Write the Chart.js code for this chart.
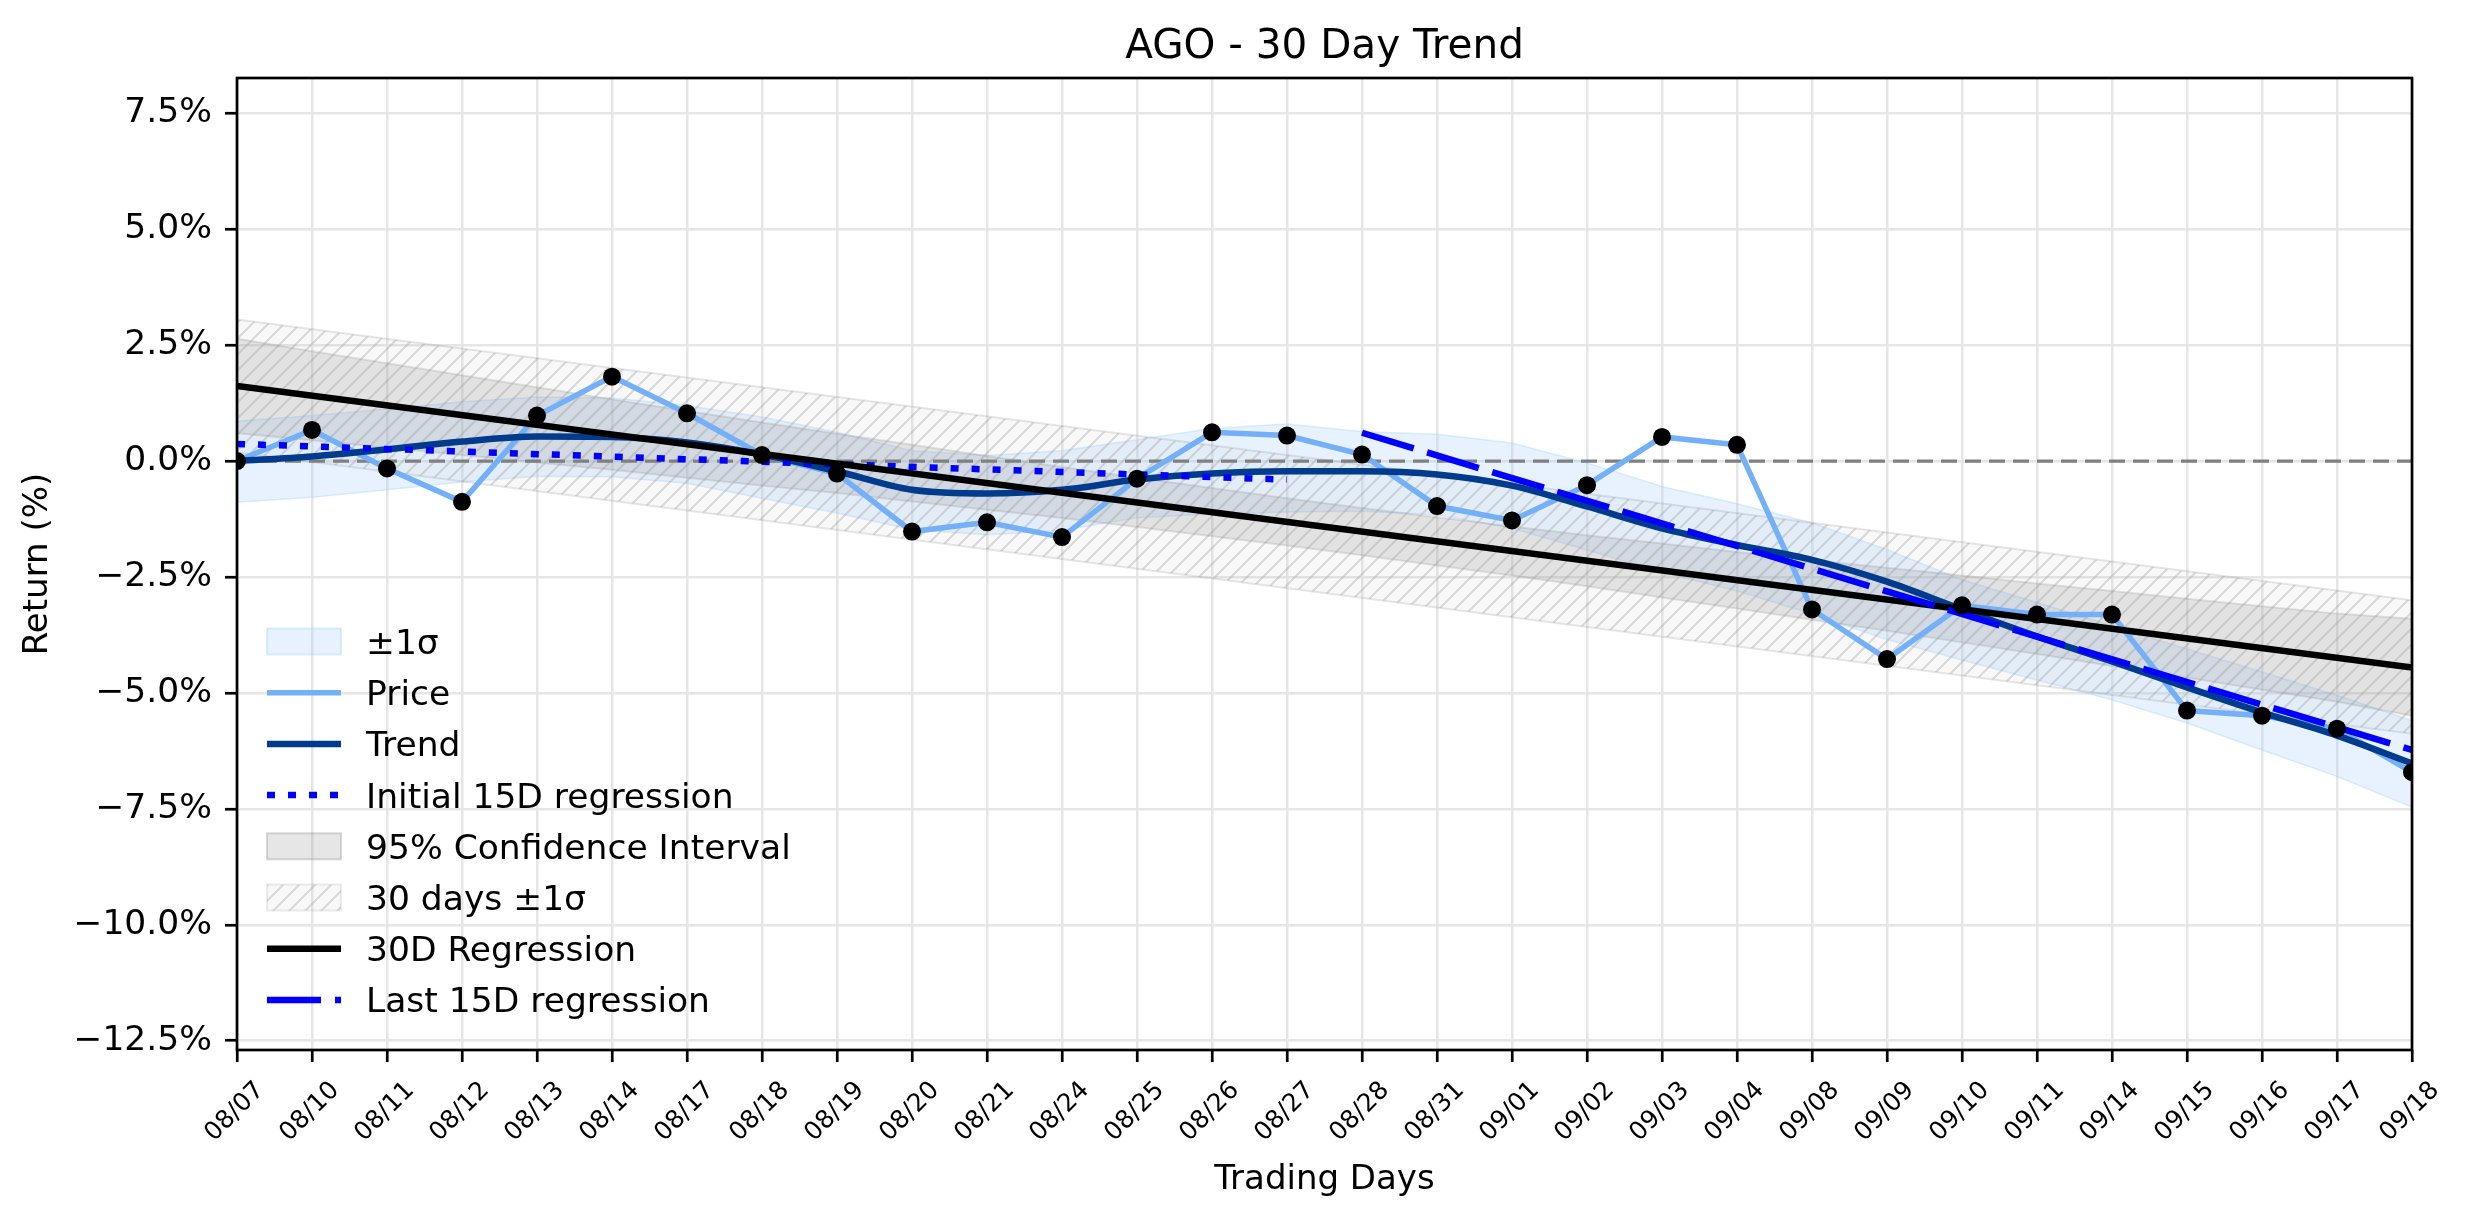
<!DOCTYPE html>
<html><head><meta charset="utf-8">
<script src="https://cdn.jsdelivr.net/npm/chart.js@4.4.0/dist/chart.umd.min.js"></script>
<style>html,body{margin:0;padding:0;background:#fff;}canvas{display:block;}</style>
</head><body>
<canvas id="c" width="2474" height="1224" style="width:2474px;height:1224px"></canvas>
<script>
// ---------- data ----------
const days = ['08/07','08/10','08/11','08/12','08/13','08/14','08/17','08/18','08/19','08/20','08/21','08/24','08/25','08/26','08/27','08/28','08/31','09/01','09/02','09/03','09/04','09/08','09/09','09/10','09/11','09/14','09/15','09/16','09/17','09/18'];
const price = [0.00,0.67,-0.16,-0.88,0.98,1.82,1.03,0.13,-0.27,-1.52,-1.32,-1.64,-0.38,0.62,0.55,0.14,-0.97,-1.28,-0.52,0.52,0.35,-3.20,-4.27,-3.11,-3.31,-3.31,-5.38,-5.49,-5.77,-6.71];
const trend = [0.00,0.10,0.25,0.42,0.53,0.52,0.40,0.14,-0.22,-0.62,-0.70,-0.62,-0.40,-0.27,-0.22,-0.22,-0.29,-0.53,-0.98,-1.45,-1.81,-2.13,-2.60,-3.20,-3.78,-4.32,-4.88,-5.42,-5.92,-6.52];
const sigmaUpper = [0.86,0.98,1.12,1.28,1.38,1.36,1.20,0.95,0.62,0.22,0.12,0.22,0.46,0.70,0.80,0.63,0.58,0.39,-0.04,-0.55,-0.92,-1.33,-1.91,-2.56,-3.05,-3.55,-4.05,-4.55,-5.05,-5.60];
const sigmaLower = [-0.89,-0.78,-0.62,-0.45,-0.33,-0.34,-0.48,-0.80,-1.12,-1.48,-1.59,-1.50,-1.22,-1.14,-1.10,-1.08,-1.16,-1.45,-1.92,-2.40,-2.80,-3.30,-3.85,-4.29,-4.72,-5.15,-5.65,-6.23,-6.80,-7.46];
const ciUpper = [2.64,2.37,2.11,1.85,1.59,1.33,1.08,0.83,0.59,0.35,0.11,-0.13,-0.36,-0.58,-0.80,-1.01,-1.21,-1.41,-1.60,-1.78,-1.96,-2.14,-2.30,-2.47,-2.64,-2.80,-2.97,-3.13,-3.29,-3.40];
const ciLower = [0.60,0.45,0.29,0.13,-0.03,-0.19,-0.36,-0.53,-0.69,-0.87,-1.05,-1.23,-1.42,-1.62,-1.82,-2.03,-2.25,-2.47,-2.70,-2.94,-3.18,-3.42,-3.66,-3.91,-4.16,-4.42,-4.67,-4.93,-5.19,-5.49];
const reg30 = [1.62,-4.45];        // 08/07 -> 09/18
const reg30Upper = [3.05,-3.00];   // 30 days +1σ
const reg30Lower = [0.19,-5.88];   // 30 days -1σ
const initReg = [0.37,-0.40];      // 08/07 -> 08/27
const lastReg = [0.61,-6.23];      // 08/28 -> 09/18
const zeroLine = [0,0];
const yTicks = [-12.5,-10,-7.5,-5,-2.5,0,2.5,5,7.5];
const titleText = 'AGO - 30 Day Trend';
const legendLabels = ['±1σ','Price','Trend','Initial 15D regression','95% Confidence Interval','30 days ±1σ','30D Regression','Last 15D regression'];

// ---------- helpers ----------
const seg = (a,b,v) => [{x:a,y:v[0]},{x:b,y:v[1]}];
const FONT = '"DejaVu Sans", "Liberation Sans", sans-serif';
const C = {
  price:'#74b0f7', trend:'#003b8e', blue:'#0000ff',
  sigFill:'rgba(160,205,250,0.25)', sigEdge:'rgba(160,205,250,0.35)',
  ciFill:'rgba(128,128,128,0.20)', ciEdge:'rgba(128,128,128,0.22)',
  hatchEdge:'rgba(128,128,128,0.20)'
};
function makeHatch(){
  const s=16, c=document.createElement('canvas'); c.width=s; c.height=s;
  const g=c.getContext('2d');
  g.fillStyle='rgba(200,200,200,0.13)'; g.fillRect(0,0,s,s);
  g.strokeStyle='rgba(150,150,150,0.32)'; g.lineWidth=2;
  g.beginPath();
  g.moveTo(0,s); g.lineTo(s,0);
  g.moveTo(-2,2); g.lineTo(2,-2);
  g.moveTo(s-2,s+2); g.lineTo(s+2,s-2);
  g.stroke();
  return document.getElementById('c').getContext('2d').createPattern(c,'repeat');
}
const hatch = makeHatch();
const dashProp = {pointRadius:0, clip:0, fill:false};

// ---------- datasets ----------
const datasets = [
  /*0*/ {data:price, showLine:false, pointRadius:9, pointBackgroundColor:'#000', pointBorderWidth:0, clip:0, order:1},
  /*1*/ {data:seg('08/28','09/18',lastReg), borderColor:C.blue, borderWidth:6.5, borderDash:[54,14], ...dashProp, order:2},
  /*2*/ {data:seg('08/07','09/18',reg30), borderColor:'#000', borderWidth:6.5, ...dashProp, order:3},
  /*3*/ {data:seg('08/07','08/27',initReg), borderColor:C.blue, borderWidth:6.5, borderDash:[8,13], ...dashProp, order:4},
  /*4*/ {data:trend, borderColor:C.trend, borderWidth:6.5, cubicInterpolationMode:'monotone', ...dashProp, order:5},
  /*5*/ {data:price, borderColor:C.price, borderWidth:5.5, ...dashProp, order:6},
  /*6*/ {data:seg('08/07','09/18',zeroLine), borderColor:'#808080', borderWidth:3.3, borderDash:[16,8], ...dashProp, order:7},
  /*7*/ {data:seg('08/07','09/18',reg30Lower), borderColor:C.hatchEdge, borderWidth:2, ...dashProp, order:8.5},
  /*8*/ {data:seg('08/07','09/18',reg30Upper), borderColor:C.hatchEdge, borderWidth:2, pointRadius:0, clip:0, fill:{target:7}, backgroundColor:hatch, order:8},
  /*9*/ {data:ciLower, borderColor:C.ciEdge, borderWidth:2, ...dashProp, order:10.5},
  /*10*/{data:ciUpper, borderColor:C.ciEdge, borderWidth:2, pointRadius:0, clip:0, fill:{target:9}, backgroundColor:C.ciFill, order:10},
  /*11*/{data:sigmaLower, borderColor:C.sigEdge, borderWidth:1.5, ...dashProp, order:12.5},
  /*12*/{data:sigmaUpper, borderColor:C.sigEdge, borderWidth:1.5, pointRadius:0, clip:0, fill:{target:11}, backgroundColor:C.sigFill, order:12}
];

// ---------- decorations: frame, title, x labels, legend ----------
const deco = {
  id:'deco',
  afterDatasetsDraw(chart){
    const {ctx, chartArea:a} = chart;
    ctx.save(); ctx.strokeStyle='#000'; ctx.lineWidth=2.7;
    ctx.strokeRect(a.left, a.top, a.right-a.left, a.bottom-a.top);
    ctx.restore();
  },
  afterDraw(chart){
    const {ctx, chartArea:a} = chart, xs = chart.scales.x;
    // title centred over the plot area
    ctx.save();
    ctx.fillStyle='#000'; ctx.font='40.5px '+FONT; ctx.textAlign='center'; ctx.textBaseline='alphabetic';
    ctx.fillText(titleText, (a.left+a.right)/2, 58);
    ctx.restore();
    // rotated x tick labels (centred on tick)
    ctx.save();
    ctx.fillStyle='#000'; ctx.font='25px '+FONT; ctx.textAlign='center'; ctx.textBaseline='middle';
    days.forEach((d,i)=>{
      const x = xs.getPixelForValue(i);
      ctx.save(); ctx.translate(x-2, 1112); ctx.rotate(-Math.PI/4); ctx.fillText(d,0,0); ctx.restore();
    });
    ctx.restore();
    // legend
    const hx0=267, hx1=341, tx=366, y0=641.5, dy=51.2;
    ctx.save();
    ctx.font='34.5px '+FONT; ctx.textBaseline='alphabetic'; ctx.textAlign='left';
    legendLabels.forEach((lab,k)=>{
      const y = y0 + k*dy;
      ctx.save();
      ctx.lineCap='butt';
      if (k===0 || k===4 || k===5){
        const fill = k===0 ? C.sigFill : (k===4 ? C.ciFill : hatch);
        const edge = k===0 ? C.sigEdge : (k===4 ? 'rgba(128,128,128,0.3)' : 'rgba(128,128,128,0.15)');
        ctx.fillStyle = fill; ctx.fillRect(hx0, y-13, hx1-hx0, 26);
        ctx.strokeStyle = edge; ctx.lineWidth=2; ctx.strokeRect(hx0, y-13, hx1-hx0, 26);
      } else {
        const st = {1:[C.price,5.5,[]],2:[C.trend,6.5,[]],3:[C.blue,6.5,[8,13]],6:['#000',6.5,[]],7:[C.blue,6.5,[54,14]]}[k];
        ctx.strokeStyle=st[0]; ctx.lineWidth=st[1]; ctx.setLineDash(st[2]);
        ctx.beginPath(); ctx.moveTo(hx0,y); ctx.lineTo(hx1,y); ctx.stroke();
      }
      ctx.restore();
      ctx.fillStyle='#000';
      ctx.fillText(lab, tx, y+12.5);
    });
    ctx.restore();
  }
};

const gridColor = '#e6e6e6';
new Chart(document.getElementById('c'), {
  type:'line',
  data:{labels:days, datasets},
  plugins:[deco],
  options:{
    responsive:false, devicePixelRatio:1, animation:false,
    layout:{padding:{left:0, right:62, top:78, bottom:0}},
    elements:{line:{tension:0}},
    plugins:{ legend:{display:false}, tooltip:{enabled:false}, title:{display:false} },
    scales:{
      x:{
        type:'category', offset:false,
        grid:{color:gridColor, lineWidth:2.5, tickColor:'#000', tickWidth:2.7, tickLength:12, drawTicks:true},
        border:{display:false},
        ticks:{display:false, autoSkip:false},
        title:{display:true, text:'Trading Days', color:'#000', font:{family:FONT, size:34, lineHeight:1.2}, padding:{top:0, bottom:23}},
        afterFit(s){ s.height = 174; }
      },
      y:{
        type:'linear', min:-12.70, max:8.26,
        afterBuildTicks(s){ s.ticks = yTicks.map(v=>({value:v})); },
        grid:{color:gridColor, lineWidth:2.5, tickColor:'#000', tickWidth:2.7, tickLength:12},
        border:{display:false},
        ticks:{color:'#000', padding:13, font:{family:FONT, size:34.5},
          callback:(v)=> (v<0?'\u2212':'') + Math.abs(v).toFixed(1) + '%'},
        title:{display:true, text:'Return (%)', color:'#000', font:{family:FONT, size:34, lineHeight:1.2}, padding:{top:18, bottom:0}},
        afterFit(s){ s.width = 237; }
      }
    }
  }
});
</script>
</body></html>
